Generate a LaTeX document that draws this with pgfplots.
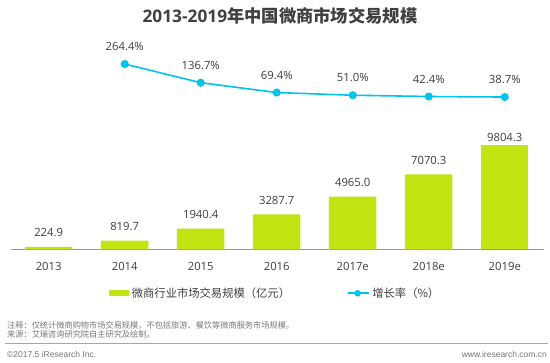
\documentclass[border=0pt]{standalone}
\usepackage{fontspec}
\setmainfont{Open Sans}
\newfontfamily\cjk{Noto Sans CJK SC}
\newfontfamily\arial{Liberation Sans}
\usepackage{pgfplots}
\pgfplotsset{compat=1.18}
\definecolor{barc}{RGB}{194,228,18}
\definecolor{linec}{RGB}{0,196,240}
\definecolor{txt}{RGB}{64,64,64}
\definecolor{foot}{RGB}{120,120,120}
\begin{document}
\begin{tikzpicture}
\path[use as bounding box, fill=white] (0pt,0pt) rectangle (550pt,363pt);
\node[font=\fontsize{17.3}{20}\selectfont\bfseries, text=txt, inner sep=0pt] at (280pt,347.2pt) {2013-2019{\cjk 年中国微商市场交易规模}};
\begin{axis}[
  at={(10.7pt,113.7pt)}, anchor=south west, scale only axis,
  width=532.8pt, height=105.9pt,
  xmin=-0.5, xmax=6.51, ymin=0, ymax=10000,
  axis x line*=bottom, axis y line=none,
  x axis line style={draw=black!40, line width=0.8pt, -},
  xtick={0,...,6}, xticklabels={2013,2014,2015,2016,2017e,2018e,2019e},
  major tick length=0pt, ytick=\empty,
  xticklabel style={anchor=center, yshift=-16.7pt, font=\fontsize{11.3}{13}\selectfont, text=txt},
  clip=false,
  legend style={at={(0.185,-0.4155)}, anchor=west, draw=none, fill=none, inner sep=0pt,
    nodes={inner sep=0pt, font=\cjk\fontsize{11.3}{13}\selectfont, text=txt},
    legend columns=2, column sep=0pt,
    /tikz/every odd column/.append style={column sep=2.4pt},
    /tikz/every even column/.append style={column sep=56.7pt}},
]
\addplot[ybar, bar shift=0pt, bar width=47.5pt, fill=barc, draw=none,
  point meta=explicit symbolic, nodes near coords,
  every node near coord/.append style={anchor=center, yshift=14.3pt, font=\fontsize{11.3}{13}\selectfont, text=txt},
  legend image code/.code={\fill[barc] (0pt,-3pt) rectangle (20pt,3pt);}]
  coordinates {(0,224.9)[224.9] (1,819.7)[819.7] (2,1940.4)[1940.4] (3,3287.7)[3287.7] (4,4965.0)[4965.0] (5,7070.3)[7070.3]};
\addlegendentry{微商行业市场交易规模（亿元）}
\addplot[ybar, bar shift=0pt, bar width=47.5pt, fill=barc, draw=none, forget plot,
  point meta=explicit symbolic, nodes near coords,
  every node near coord/.append style={anchor=center, yshift=8pt, font=\fontsize{11.3}{13}\selectfont, text=txt}]
  coordinates {(6,9804.3)[9804.3]};
\addlegendimage{legend image code/.code={\draw[linec, line width=1.6pt] (0pt,0pt) -- (21.6pt,0pt); \fill[linec] (10pt,0pt) circle (3pt);}}
\addlegendentry{增长率（\%）}
\end{axis}
\begin{axis}[
  at={(10.7pt,260.3pt)}, anchor=south west, scale only axis,
  width=532.8pt, height=43.86pt,
  xmin=-0.5, xmax=6.51, ymin=0, ymax=300,
  hide axis, clip=false,
]
\addplot[linec, line width=1.6pt, mark=*, mark size=3.2pt, mark options={fill=linec, draw=linec},
  point meta=explicit symbolic, nodes near coords,
  every node near coord/.append style={anchor=center, yshift=17.3pt, font=\fontsize{11.3}{13}\selectfont, text=txt}]
  coordinates {(1,264.4)[264.4\%] (2,136.7)[136.7\%] (3,69.4)[69.4\%] (4,51.0)[51.0\%] (5,42.4)[42.4\%] (6,38.7)[38.7\%]};
\end{axis}
\node[anchor=west, inner sep=0pt, font=\cjk\fontsize{8.2}{10}\selectfont, text=foot] at (7pt,37.7pt) {注释：仅统计微商购物市场交易规模，不包括旅游、餐饮等微商服务市场规模。};
\node[anchor=west, inner sep=0pt, font=\cjk\fontsize{8.2}{10}\selectfont, text=foot] at (7pt,28.3pt) {来源：艾瑞咨询研究院自主研究及绘制。};
\draw[black!35, line width=0.8pt] (5pt,19.7pt) -- (548pt,19.7pt);
\node[anchor=west, inner sep=0pt, font=\arial\fontsize{8.5}{10}\selectfont, text=foot] at (7pt,8.7pt) {©2017.5 iResearch Inc.};
\node[anchor=east, inner sep=0pt, font=\arial\fontsize{8.5}{10}\selectfont, text=foot] at (547pt,8.7pt) {www.iresearch.com.cn};
\end{tikzpicture}
\end{document}
